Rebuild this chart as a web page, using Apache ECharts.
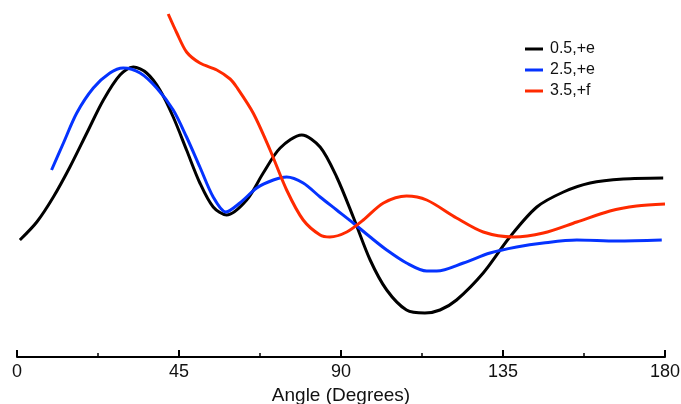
<!DOCTYPE html>
<html>
<head>
<meta charset="utf-8">
<script src="https://cdn.jsdelivr.net/npm/echarts@6/dist/echarts.min.js"></script>
<style>html,body{margin:0;padding:0;background:#fff}#c{width:681px;height:404px}</style>
</head>
<body>
<div id="c"></div>
<script>
// Angle (degrees) and response values (arbitrary units)
const blackX = [0.8, 5.5, 10.1, 14.7, 19.4, 24, 28.6, 32.3, 36, 39.7, 43.4, 47.1, 50.8, 54.5, 58.2, 63.8, 68.4, 73.1, 79.1, 84.2, 88.8, 93.4, 98.1, 102.7, 108.2, 113.3, 117.5, 122.1, 129.5, 136.9, 144.4, 151.8, 159.2, 168.4, 179.5];
const blackY = [1.17, 1.35, 1.60, 1.90, 2.24, 2.57, 2.82, 2.90, 2.84, 2.67, 2.40, 2.07, 1.74, 1.50, 1.42, 1.57, 1.84, 2.09, 2.22, 2.10, 1.80, 1.40, 0.97, 0.67, 0.47, 0.44, 0.47, 0.57, 0.84, 1.20, 1.50, 1.65, 1.74, 1.78, 1.79];

const blueX = [9.6, 12.9, 16.6, 21.2, 25.8, 29.5, 34.2, 38.8, 43.4, 47.1, 50.8, 54.5, 58.0, 61.9, 66.6, 71.2, 74.9, 79.5, 84.2, 88.8, 93.4, 98.1, 102.7, 108.2, 113.8, 116.6, 124, 131.4, 138.8, 146.2, 155.5, 166.6, 179.1];
const blueY = [1.87, 2.14, 2.44, 2.69, 2.84, 2.89, 2.84, 2.69, 2.47, 2.20, 1.90, 1.60, 1.45, 1.54, 1.69, 1.77, 1.80, 1.74, 1.60, 1.47, 1.34, 1.20, 1.07, 0.94, 0.86, 0.86, 0.94, 1.04, 1.10, 1.14, 1.17, 1.16, 1.17];

const redX = [42, 44.4, 47.1, 50.8, 55.5, 59.2, 61, 65.6, 70.3, 74.9, 79.5, 84.2, 86.9, 91.6, 96.2, 101.8, 108.2, 113.8, 122.1, 129.5, 137.9, 146.2, 155.5, 164.7, 172.1, 180];
const redY = [3.43, 3.24, 3.05, 2.94, 2.87, 2.78, 2.70, 2.44, 2.07, 1.67, 1.37, 1.22, 1.20, 1.25, 1.37, 1.54, 1.61, 1.57, 1.39, 1.25, 1.20, 1.24, 1.35, 1.46, 1.51, 1.53];

const seriesNames = ['0.5,+e', '2.5,+e', '3.5,+f'];
const xTicks = [0, 45, 90, 135, 180];
const xTitle = 'Angle (Degrees)';

function pairs(xs, ys) { return xs.map((x, i) => [x, ys[i]]); }

const font = 'Liberation Sans, Arial, Helvetica, sans-serif';
const chart = echarts.init(document.getElementById('c'), null, { renderer: 'canvas' });
const lineCommon = { type: 'line', smooth: 0.3, showSymbol: false };
chart.setOption({
  animation: false,
  backgroundColor: '#ffffff',
  grid: { left: 17, right: 16, top: 7, bottom: 47, containLabel: false, outerBoundsMode: 'none' },
  legend: {
    orient: 'vertical', left: 520, top: 36, itemWidth: 18, itemHeight: 3, itemGap: 5,
    icon: 'rect',
    textStyle: { fontFamily: font, fontSize: 16, color: '#111', padding: [0, 0, 0, 2] },
    data: seriesNames
  },
  xAxis: {
    type: 'value', min: xTicks[0], max: xTicks[xTicks.length - 1], interval: 45,
    name: xTitle, nameLocation: 'middle', nameGap: 29,
    nameTextStyle: { fontFamily: font, fontSize: 19, color: '#111' },
    axisLine: { show: true, lineStyle: { color: '#000', width: 2 } },
    axisTick: { show: true, inside: true, length: 7, lineStyle: { color: '#000', width: 2 } },
    minorTick: { show: true, splitNumber: 2, length: 4, lineStyle: { color: '#000', width: 1.5 } },
    axisLabel: { fontFamily: font, fontSize: 18, color: '#111', margin: 6 },
    splitLine: { show: false }
  },
  yAxis: {
    type: 'value', min: 0, max: 3.5, show: false, splitLine: { show: false }
  },
  series: [
    Object.assign({ name: seriesNames[0], data: pairs(blackX, blackY),
      itemStyle: { color: '#000000' }, lineStyle: { color: '#000000', width: 3 } }, lineCommon),
    Object.assign({ name: seriesNames[1], data: pairs(blueX, blueY),
      itemStyle: { color: '#0533ff' }, lineStyle: { color: '#0533ff', width: 3 } }, lineCommon),
    Object.assign({ name: seriesNames[2], data: pairs(redX, redY),
      itemStyle: { color: '#ff2a00' }, lineStyle: { color: '#ff2a00', width: 3 } }, lineCommon)
  ]
});
</script>
</body>
</html>
